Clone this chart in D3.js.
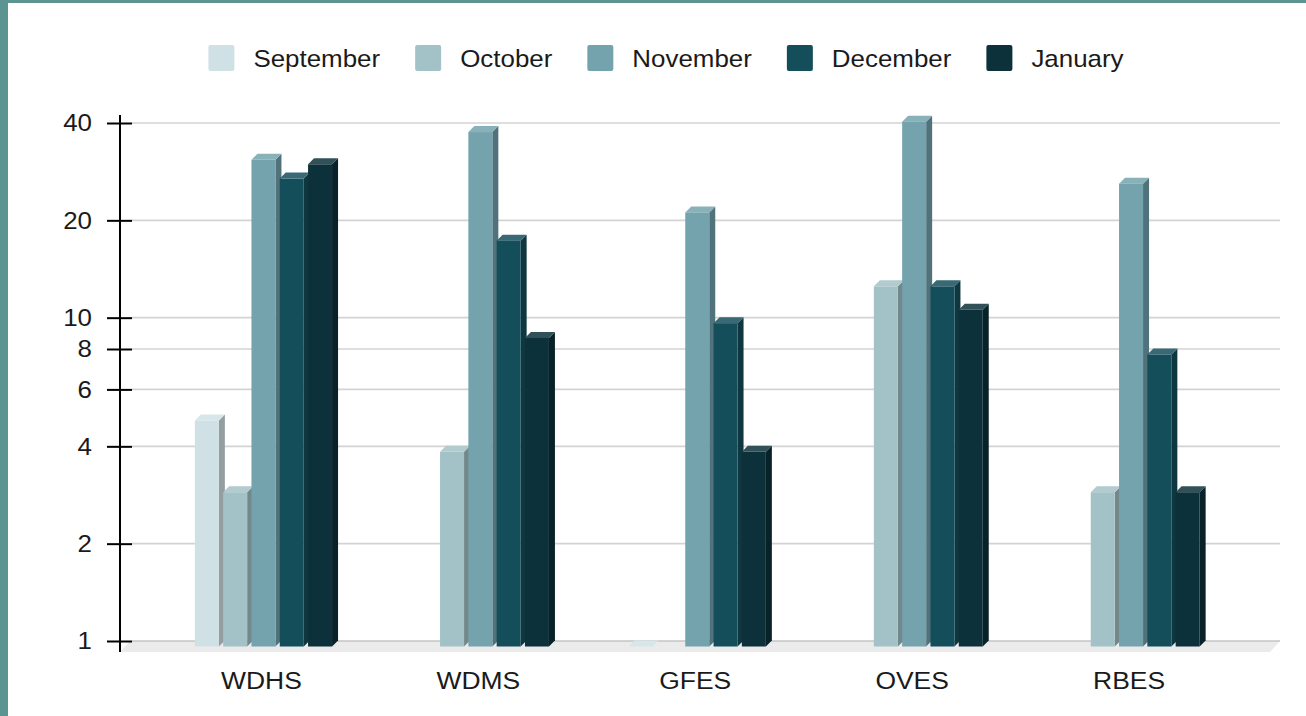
<!DOCTYPE html>
<html>
<head>
<meta charset="utf-8">
<script src="https://cdn.jsdelivr.net/npm/d3@7"></script>
<style>
  html, body { margin: 0; padding: 0; background: #fff; }
  svg { display: block; font-family: "Liberation Sans", Arial, sans-serif; }
</style>
</head>
<body>
<svg id="chart"></svg>
<script>
(function() {
  /* Data */
  var categories = ["WDHS", "WDMS", "GFES", "OVES", "RBES"];
  var months = ["September", "October", "November", "December", "January"];
  var september = [5, null, 1, null, null];
  var october = [3, 4, null, 13, 3];
  var november = [32, 39, 22, 42, 27];
  var december = [28, 18, 10, 13, 8];
  var january = [31, 9, 4, 11, 3];
  var tickValues = [1, 2, 4, 6, 8, 10, 20, 40];
  var colors = ["#d0e1e5", "#a3c2c7", "#74a3ae", "#154e5b", "#0d313a"];

  var series = [september, october, november, december, january];

  /* SVG properties */
  var width = 1306;
  var height = 716;
  var stretch = 1.08;   // text in the original is a little wide
  var svg = d3.select("#chart").attr("width", width).attr("height", height);

  // teal frame on left and top
  svg.append("rect").attr("x", 0).attr("y", 0).attr("width", width).attr("height", 3).attr("fill", "#5b9490");
  svg.append("rect").attr("x", 0).attr("y", 0).attr("width", 8).attr("height", height).attr("fill", "#5b9490");

  /* scales */
  var y = d3.scaleLog().domain([1, 40]).range([641, 123]);
  var x0 = d3.scaleBand().domain(categories).range([155, 1239.5]);
  var bw = x0.bandwidth();
  var x1 = d3.scaleBand().domain(months)
             .range([bw / 2 - 68.6, bw / 2 + 68.6])
             .paddingInner(0.152);

  var frontShift = 5.5;   // front face sits a bit lower than back wall
  var dx = 6, dy = 6;     // bar depth
  var base = y(1) + frontShift;

  /* floor */
  svg.append("polygon")
     .attr("points", [[130, 641], [1280, 641], [1270, 652], [120, 652]].join(" "))
     .attr("fill", "#ebebeb");

  /* gridlines */
  svg.selectAll("line.grid")
     .data(tickValues)
     .enter()
     .append("line")
     .attr("class", "grid")
     .attr("x1", 132).attr("x2", 1280)
     .attr("y1", function(d) { return y(d); })
     .attr("y2", function(d) { return y(d); })
     .attr("stroke", function(d) { return d === 1 ? "#c4c4c4" : "#d3d3d3"; })
     .attr("stroke-width", 1.6);

  /* bars */
  var bars = [];
  series.forEach(function(s, si) {
    s.forEach(function(v, ci) {
      if (v != null) bars.push({ cat: categories[ci], month: months[si], si: si, value: v });
    });
  });
  bars.sort(function(a, b) { return categories.indexOf(a.cat) - categories.indexOf(b.cat) || a.si - b.si; });

  var w = x1.bandwidth();
  var g = svg.selectAll("g.bar")
             .data(bars)
             .enter()
             .append("g")
             .attr("class", "bar");

  g.each(function(d) {
    var el = d3.select(this);
    var bx = x0(d.cat) + x1(d.month);
    var top = y(d.value) + frontShift;
    var c = colors[d.si];
    var side = d3.color(c).darker(1).formatHex();
    var topC = d3.interpolateRgb(c, "#ffffff")(0.15);
    el.append("polygon")
      .attr("points", [[bx + w, top], [bx + w + dx, top - dy], [bx + w + dx, base - dy], [bx + w, base]].join(" "))
      .attr("fill", side);
    el.append("polygon")
      .attr("points", [[bx, top], [bx + dx, top - dy], [bx + w + dx, top - dy], [bx + w, top]].join(" "))
      .attr("fill", topC);
    if (base - top > 0) {
      el.append("rect")
        .attr("x", bx).attr("y", top)
        .attr("width", w).attr("height", base - top)
        .attr("fill", c);
    }
  });

  /* y axis */
  var yAxis = d3.axisLeft(y)
                .tickValues(tickValues)
                .tickFormat(d3.format("d"))
                .tickSize(25)
                .tickPadding(15);
  var ag = svg.append("g").attr("transform", "translate(132,0)").call(yAxis);
  ag.select(".domain").remove();
  ag.selectAll(".tick line").attr("stroke", "#000").attr("stroke-width", 2);
  ag.selectAll(".tick text")
    .attr("x", 0)
    .attr("transform", "translate(-40,0) scale(" + stretch + ",1)")
    .attr("fill", "#1a1a1a")
    .style("font-size", "24px")
    .style("font-family", "'Liberation Sans', Arial, sans-serif");
  svg.append("line")
     .attr("x1", 120).attr("x2", 120)
     .attr("y1", 115).attr("y2", 652)
     .attr("stroke", "#000").attr("stroke-width", 2);

  /* category labels */
  svg.selectAll("text.cat")
     .data(categories)
     .enter()
     .append("text")
     .attr("class", "cat")
     .attr("transform", function(d) { return "translate(" + (x0(d) + bw / 2 - 2) + ",689) scale(" + stretch + ",1)"; })
     .attr("text-anchor", "middle")
     .attr("fill", "#1a1a1a")
     .style("font-size", "24.5px")
     .text(function(d) { return d; });

  /* legend */
  var lg = svg.append("g");
  var items = lg.selectAll("g")
                .data(months)
                .enter()
                .append("g");
  items.append("rect")
       .attr("width", 26).attr("height", 26)
       .attr("y", -13).attr("rx", 2)
       .attr("fill", function(d, i) { return colors[i]; });
  items.append("text")
       .attr("transform", "translate(45,8.5) scale(" + stretch + ",1)")
       .attr("fill", "#1a1a1a")
       .style("font-size", "24px")
       .text(function(d) { return d; });
  var pos = 0;
  items.each(function() {
    var t = d3.select(this).select("text").node().getComputedTextLength() * stretch;
    this.__x = pos;
    pos += 45 + t + 35;
  });
  var total = pos - 35;
  var startX = 666 - total / 2;
  items.attr("transform", function() { return "translate(" + (startX + this.__x) + ",58)"; });
})();
</script>
</body>
</html>
